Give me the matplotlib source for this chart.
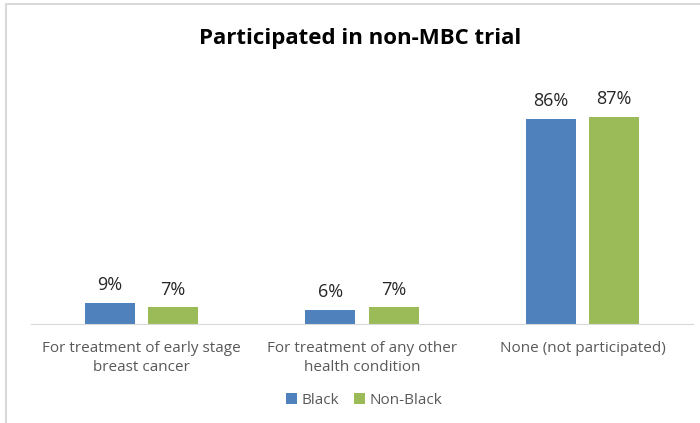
import matplotlib.pyplot as plt
import numpy as np
from matplotlib.patches import Rectangle

plt.rcParams['font.family'] = ['Open Sans', 'DejaVu Sans']

categories = ["For treatment of early stage\nbreast cancer",
              "For treatment of any other\nhealth condition",
              "None (not participated)"]
black = [9, 6, 86]
non_black = [7, 7, 87]

blue = "#4F81BD"
green = "#9BBB59"

fig = plt.figure(figsize=(7.0, 4.23), dpi=100)
ax = fig.add_axes([0.0443, 0.234, 0.9457, 0.5636])

x = np.arange(len(categories))
width = 0.227
off = 0.143
b1 = ax.bar(x - off, black, width, color=blue, label="Black")
b2 = ax.bar(x + off, non_black, width, color=green, label="Non-Black")

for bars, vals in ((b1, black), (b2, non_black)):
    for r, v in zip(bars, vals):
        ax.text(r.get_x() + r.get_width() / 2, v + 3.6, f"{v}%",
                ha="center", va="bottom", fontsize=13, color="#262626")

ax.set_xlim(-0.5, 2.5)
ax.set_ylim(0, 100)
ax.set_yticks([])
ax.set_xticks(x)
ax.set_xticklabels(categories, fontsize=11, color="#595959", linespacing=1.35)
ax.tick_params(axis="x", length=0, pad=12)
for s in ("top", "right", "left"):
    ax.spines[s].set_visible(False)
ax.spines["bottom"].set_color("#D9D9D9")

fig.text(0.515, 0.91, "Participated in non-MBC trial", ha="center", va="center",
         fontsize=16, fontweight="bold", color="black")

fig.legend(handles=[b1, b2], loc="center", bbox_to_anchor=(0.52, 0.054), ncol=2,
           frameon=False, fontsize=11, labelcolor="#595959",
           handlelength=0.7, handleheight=0.7, handletextpad=0.3, columnspacing=1.0)

# outer chart frame (cut off at right and bottom)
fig.add_artist(Rectangle((6 / 700, -0.1), 1.2, 1.1 - 4 / 423,
                         transform=fig.transFigure, fill=False,
                         edgecolor="#D9D9D9", linewidth=1.5))

fig.savefig("out.png", dpi=100)
